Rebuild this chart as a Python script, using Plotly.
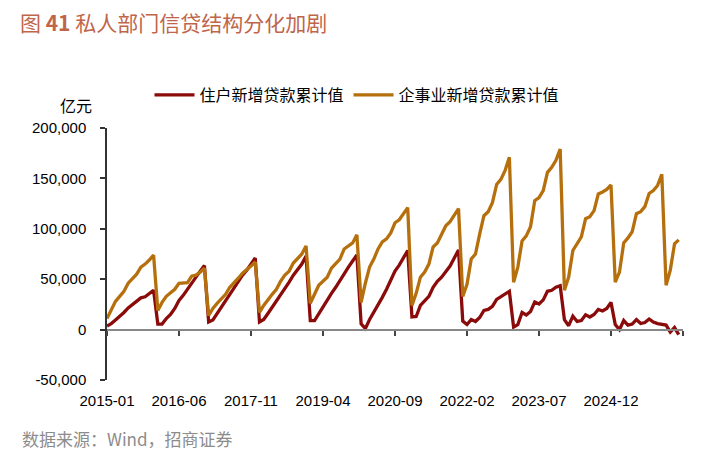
import pandas as pd
import plotly.graph_objects as go

# ---------------- data (亿元) ----------------
months = pd.date_range("2015-01-01", periods=136, freq="MS").strftime("%Y-%m").tolist()

household = (
    [3500, 6000, 9500, 13000, 17000, 21500, 25000, 28500, 31500, 32500, 35500, 39000]      # 2015
    + [5500, 5500, 11000, 15000, 21000, 29000, 34000, 40000, 47000, 52000, 58000, 63500]  # 2016
    + [7500, 9500, 16000, 22000, 29000, 35000, 41000, 48000, 54000, 59000, 65000, 71000]  # 2017
    + [7500, 10000, 16000, 22000, 28000, 35000, 41000, 47000, 54000, 59000, 65000, 73000] # 2018
    + [9000, 9000, 16000, 22000, 29000, 36000, 42000, 49000, 56000, 62000, 68000, 74000]  # 2019
    + [5700, 1000, 10000, 17000, 24000, 32000, 40000, 49000, 58000, 64000, 71000, 78500]  # 2020
    + [12500, 13000, 24000, 29000, 33000, 42000, 48000, 52000, 58000, 63000, 71000, 79000]# 2021
    + [8400, 5000, 10000, 8000, 12000, 19000, 20000, 23000, 30000, 33000, 35000, 38000]   # 2022
    + [2500, 5000, 17000, 14500, 18000, 27500, 25500, 29500, 38000, 39000, 42000, 43500]  # 2023
    + [9800, 3900, 13300, 8100, 9000, 14600, 12500, 15000, 20000, 18500, 21000, 27000]    # 2024
    + [5000, 0, 9000, 4500, 5500, 10000, 6000, 7000, 10500, 7500, 6000, 5000]             # 2025
    + [4500, -2500, 2000, -5000]                                                          # 2026
)

enterprise = (
    [11000, 20000, 28000, 33000, 38000, 46000, 50000, 55000, 62000, 65000, 69000, 74000]          # 2015
    + [19000, 27000, 33000, 37000, 40000, 46000, 46000, 46500, 53000, 54000, 57000, 61000]        # 2016
    + [14000, 21000, 26000, 30000, 35000, 42000, 46000, 51000, 56000, 59000, 63000, 67000]        # 2017
    + [17000, 24000, 30000, 35000, 40000, 48000, 54000, 58000, 66000, 70000, 75000, 83000]        # 2018
    + [26000, 35000, 44000, 48000, 52000, 61000, 65000, 70000, 80000, 83000, 86000, 94000]        # 2019
    + [27000, 46000, 62000, 70000, 80000, 87000, 90000, 96000, 106000, 109000, 115000, 121000]    # 2020
    + [24000, 36000, 52000, 57000, 65000, 82000, 86000, 94000, 103000, 107000, 113000, 120000]    # 2021
    + [33000, 45000, 70000, 75000, 95000, 113000, 117000, 126000, 144000, 149000, 158000, 171000] # 2022
    + [47000, 62000, 88000, 93000, 102000, 128000, 131000, 138000, 156000, 161000, 168000, 179000]# 2023
    + [39000, 52000, 78500, 85000, 92000, 110000, 112000, 118000, 134500, 136500, 139000, 143500] # 2024
    + [47000, 57000, 86000, 91000, 97000, 115000, 117000, 122000, 135000, 138000, 143000, 154000] # 2025
    + [44000, 59000, 85000, 89000]                                                                # 2026
)

x_idx = list(range(len(months)))
tick_step = 17
tick_idx = list(range(0, 136 + 1, tick_step))
tick_txt = [months[i] if i < len(months) else "" for i in tick_idx]
y_ticks = [-50000, 0, 50000, 100000, 150000, 200000]
y_tick_txt = [f"{v:,}" for v in y_ticks]

# ---------------- layout geometry ----------------
W, H = 721, 463
L, R, T, B = 107, 38, 128, 83
pw, ph = W - L - R, H - T - B


def px(xp):
    return (xp - L) / pw


def py(yp):
    return (H - B - yp) / ph


C_H = "#8B0B0B"
C_E = "#B5700D"
FONT_CJK = "Noto Sans CJK SC"
FONT_NUM = "Liberation Sans, Arial, sans-serif"

fig = go.Figure()
fig.add_trace(go.Scatter(x=x_idx, y=household, mode="lines", name="住户新增贷款累计值",
                         line=dict(color=C_H, width=3.3), xaxis="x", yaxis="y"))
fig.add_trace(go.Scatter(x=x_idx, y=enterprise, mode="lines", name="企事业新增贷款累计值",
                         line=dict(color=C_E, width=3.3), xaxis="x2", yaxis="y"))

fig.update_layout(
    width=W, height=H,
    margin=dict(l=L, r=R, t=T, b=B),
    paper_bgcolor="white", plot_bgcolor="white",
    font=dict(family=FONT_NUM, size=15, color="#000"),
    showlegend=True,
    legend=dict(orientation="h", x=px(357), xanchor="center", y=py(95), yanchor="middle",
                font=dict(family=FONT_CJK, size=16, color="#000"),
                bgcolor="rgba(0,0,0,0)", itemwidth=40, tracegroupgap=0),
    xaxis=dict(range=[0, 136], tickmode="array", tickvals=tick_idx, ticktext=tick_txt,
               showline=False, showgrid=False, zeroline=False,
               ticks="outside", ticklen=7, tickcolor="rgba(0,0,0,0)",
               tickfont=dict(family=FONT_NUM, size=15, color="#000")),
    xaxis2=dict(range=[0, 136], overlaying="x", anchor="free", position=50000 / 250000,
                side="bottom", tickmode="array", tickvals=tick_idx, showticklabels=False,
                showline=True, linecolor="#888888", linewidth=2,
                ticks="outside", ticklen=5, tickwidth=1.5, tickcolor="#444",
                showgrid=False, zeroline=False),
    yaxis=dict(range=[-50000, 200000], tickmode="array", tickvals=y_ticks, ticktext=y_tick_txt,
               showline=True, linecolor="#333", linewidth=1.5,
               ticks="outside", ticklen=5, tickwidth=1.5, tickcolor="#333",
               ticklabelstandoff=11,
               showgrid=False, zeroline=False,
               tickfont=dict(family=FONT_NUM, size=15, color="#000")),
)

fig.add_annotation(x=px(18), y=py(22), xref="paper", yref="paper", xanchor="left", yanchor="middle",
                   text="图 <b>41</b> 私人部门信贷结构分化加剧", showarrow=False,
                   font=dict(family=FONT_CJK, size=21, color="#C0654A"))
fig.add_annotation(x=px(94), y=py(105), xref="paper", yref="paper", xanchor="right", yanchor="middle",
                   text="亿元", showarrow=False,
                   font=dict(family=FONT_CJK, size=16, color="#000"))
fig.add_annotation(x=px(20), y=py(438), xref="paper", yref="paper", xanchor="left", yanchor="middle",
                   text="数据来源：Wind，招商证券", showarrow=False,
                   font=dict(family=FONT_CJK, size=17, color="#8C8C8C"))

fig.write_html("out.html")
